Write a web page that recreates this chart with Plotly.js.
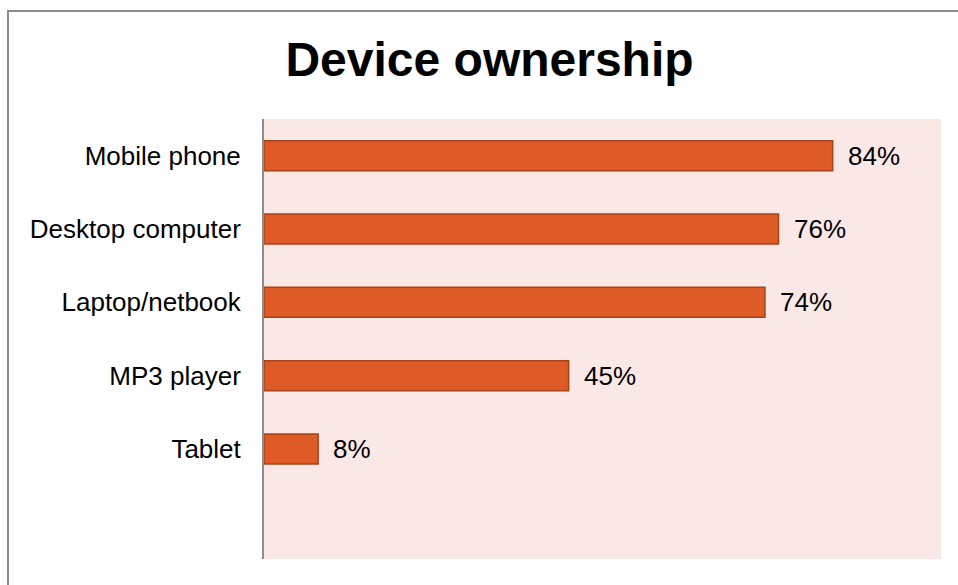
<!DOCTYPE html>
<html>
<head>
<meta charset="utf-8">
<script src="https://cdn.plot.ly/plotly-3.0.1.min.js"></script>
<style>
  html, body { margin: 0; padding: 0; background: #ffffff; overflow: hidden; }
  #wrap { position: relative; width: 958px; height: 585px; }
  #chart { width: 958px; height: 585px; }
  #frame { position: absolute; left: 7px; top: 10px; width: 1000px; height: 1000px;
           border: 2px solid #8c8c8c; pointer-events: none; }
</style>
</head>
<body>
<div id="wrap">
  <div id="chart"></div>
  <div id="frame"></div>
</div>
<script>
const categories = ["Mobile phone", "Desktop computer", "Laptop/netbook", "MP3 player", "Tablet"];
const values = [84, 76, 74, 45, 8];
const valueLabels = ["84%", "76%", "74%", "45%", "8%"];

const FONT = "Liberation Sans, Arial, sans-serif";

const trace = {
  type: "bar",
  orientation: "h",
  x: values,
  y: categories,
  marker: { color: "#DE5A27", line: { color: "#A8421B", width: 1.5 } },
  hoverinfo: "none"
};

const annotations = categories.map((c, i) => ({
  x: values[i], y: c, xref: "x", yref: "y",
  text: valueLabels[i], showarrow: false,
  xanchor: "left", yanchor: "middle", xshift: 13,
  font: { family: FONT, size: 26, color: "#000000" }
}));

const layout = {
  width: 958, height: 585,
  margin: { l: 264, r: 17, t: 119, b: 26, pad: 0 },
  paper_bgcolor: "#ffffff",
  plot_bgcolor: "#F9E8E5",
  showlegend: false,
  bargap: 0.59,
  title: {
    text: "<b>Device ownership</b>",
    font: { family: FONT, size: 48, color: "#000000" },
    xref: "container", x: 0.511, xanchor: "center",
    yref: "container", y: 0.899, yanchor: "middle"
  },
  xaxis: {
    range: [0, 100], showgrid: false, zeroline: false, showticklabels: false,
    showline: false, ticks: "", fixedrange: true
  },
  yaxis: {
    type: "category",
    categoryorder: "array", categoryarray: categories,
    range: [5.5, -0.5],
    showgrid: false, zeroline: false,
    showline: true, linecolor: "#8f8f8f", linewidth: 2,
    ticks: "outside", ticklen: 16, tickcolor: "rgba(0,0,0,0)",
    tickfont: { family: FONT, size: 26, color: "#000000" },
    fixedrange: true
  },
  annotations: annotations
};

Plotly.newPlot("chart", [trace], layout, { displayModeBar: false, staticPlot: true });
</script>
</body>
</html>
